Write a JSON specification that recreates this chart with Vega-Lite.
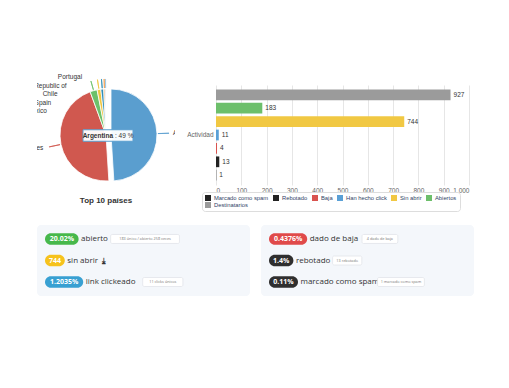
{
  "$schema": "https://vega.github.io/schema/vega-lite/v6.json",
  "background": "white",
  "padding": {"left": 37, "top": 65, "right": 0, "bottom": 0},
  "config": {"view": {"stroke": null}, "font": "Liberation Sans"},
  "datasets": {
    "paises": [
      {"orden": 1, "pais": "Argentina", "pct": 49},
      {"orden": 2, "pais": "United States", "pct": 45.4},
      {"orden": 3, "pais": "Mexico", "pct": 2.5},
      {"orden": 4, "pais": "Spain", "pct": 1.3},
      {"orden": 5, "pais": "Chile", "pct": 1.0},
      {"orden": 6, "pais": "Venezuela, Bolivarian Republic of", "pct": 0.5},
      {"orden": 7, "pais": "Portugal", "pct": 0.3}
    ],
    "actividad": [
      {"grupo": "Actividad", "serie": "Destinatarios", "valor": 927},
      {"grupo": "Actividad", "serie": "Abiertos", "valor": 183},
      {"grupo": "Actividad", "serie": "Sin abrir", "valor": 744},
      {"grupo": "Actividad", "serie": "Han hecho click", "valor": 11},
      {"grupo": "Actividad", "serie": "Baja", "valor": 4},
      {"grupo": "Actividad", "serie": "Rebotado", "valor": 13},
      {"grupo": "Actividad", "serie": "Marcado como spam", "valor": 1}
    ],
    "tarjetas": [
      {"tarjeta": "A", "fila": 1, "badge": "20.02%", "metrica": "abierto", "nota": "183 único / abierto 258 veces", "icono": ""},
      {"tarjeta": "A", "fila": 2, "badge": "744", "metrica": "sin abrir", "nota": "", "icono": "⤓"},
      {"tarjeta": "A", "fila": 3, "badge": "1.2035%", "metrica": "link clickeado", "nota": "11 clicks únicos", "icono": ""},
      {"tarjeta": "B", "fila": 1, "badge": "0.4376%", "metrica": "dado de baja", "nota": "4 dado de baja", "icono": ""},
      {"tarjeta": "B", "fila": 2, "badge": "1.4%", "metrica": "rebotado", "nota": "13 rebotado", "icono": ""},
      {"tarjeta": "B", "fila": 3, "badge": "0.11%", "metrica": "marcado como spam", "nota": "1 marcado como spam", "icono": ""}
    ]
  },
  "vconcat": [
    {
      "hconcat": [
        {
          "width": 138,
          "height": 140,
          "data": {"name": "paises"},
          "title": {"text": "Top 10 países", "orient": "bottom", "offset": -8, "fontSize": 8, "fontWeight": "bold", "color": "#333333", "font": "Liberation Sans"},
          "transform": [
            {"window": [{"op": "sum", "field": "pct", "as": "fin"}], "sort": [{"field": "orden", "order": "ascending"}], "frame": [null, 0]},
            {"calculate": "datum.fin - datum.pct", "as": "ini"},
            {"calculate": "datum.ini + datum.pct / 2", "as": "mid"},
            {"calculate": "datum.mid + 0.03", "as": "mid2"},
            {"calculate": "datum.orden <= 2 ? datum.mid : 100 - acos((24 + 8.5 * (datum.orden - 3)) / 62) * 180 / PI / 3.6", "as": "lt"},
            {"calculate": "': ' + datum.pct + ' %'", "as": "tip"}
          ],
          "layer": [
            {
              "transform": [{"filter": "datum.orden != 1"}],
              "mark": {"type": "arc", "outerRadius": 46, "stroke": "white", "strokeWidth": 0.8},
              "encoding": {
                "theta": {"field": "ini", "type": "quantitative", "stack": null, "scale": {"domain": [0, 100]}},
                "theta2": {"field": "fin"},
                "color": {"field": "pais", "type": "nominal", "legend": null,
                  "scale": {"domain": ["Argentina", "United States", "Mexico", "Spain", "Chile", "Venezuela, Bolivarian Republic of", "Portugal"],
                            "range": ["#5a9ecf", "#d0584f", "#6cc06a", "#f0c640", "#2f8fb8", "#f0a050", "#9cc8e8"]}}
              }
            },
            {
              "transform": [{"filter": "datum.orden == 1"}],
              "mark": {"type": "arc", "outerRadius": 46, "stroke": "white", "strokeWidth": 0.8, "xOffset": 5},
              "encoding": {
                "theta": {"field": "ini", "type": "quantitative", "stack": null, "scale": {"domain": [0, 100]}},
                "theta2": {"field": "fin"},
                "color": {"field": "pais", "type": "nominal", "legend": null}
              }
            },
            {
              "transform": [{"filter": "datum.orden == 2"}],
              "mark": {"type": "arc", "filled": false, "outerRadius": 58, "innerRadius": 47, "strokeWidth": 0.8},
              "encoding": {
                "theta": {"field": "mid", "type": "quantitative", "stack": null, "scale": {"domain": [0, 100]}},
                "theta2": {"field": "mid2"},
                "color": {"field": "pais", "type": "nominal", "legend": null}
              }
            },
            {
              "transform": [{"filter": "datum.orden >= 3"}],
              "mark": {"type": "arc", "filled": false, "outerRadius": 56, "innerRadius": 47, "strokeWidth": 0.8},
              "encoding": {
                "theta": {"field": "mid", "type": "quantitative", "stack": null, "scale": {"domain": [0, 100]}},
                "theta2": {"field": "mid2"},
                "color": {"field": "pais", "type": "nominal", "legend": null}
              }
            },
            {
              "transform": [{"filter": "datum.orden == 1"}],
              "mark": {"type": "arc", "filled": false, "outerRadius": 58, "innerRadius": 47, "strokeWidth": 0.8, "xOffset": 5},
              "encoding": {
                "theta": {"field": "mid", "type": "quantitative", "stack": null, "scale": {"domain": [0, 100]}},
                "theta2": {"field": "mid2"},
                "color": {"field": "pais", "type": "nominal", "legend": null}
              }
            },
            {
              "transform": [{"filter": "datum.orden >= 2"}],
              "mark": {"type": "text", "radius": 62, "align": "right", "baseline": "middle", "dx": -2, "fontSize": 6.5, "color": "#333333", "clip": true},
              "encoding": {
                "theta": {"field": "lt", "type": "quantitative", "stack": null, "scale": {"domain": [0, 100]}},
                "text": {"field": "pais"}
              }
            },
            {
              "transform": [{"filter": "datum.orden == 1"}],
              "mark": {"type": "text", "radius": 60, "align": "left", "baseline": "middle", "dx": 2, "xOffset": 5, "fontSize": 6.5, "color": "#333333", "clip": true},
              "encoding": {
                "theta": {"field": "lt", "type": "quantitative", "stack": null, "scale": {"domain": [0, 100]}},
                "text": {"field": "pais"}
              }
            },
            {
              "transform": [{"filter": "datum.orden == 1"}],
              "mark": {"type": "point", "shape": "M-1,-0.23H1V0.23H-1Z", "size": 2500, "filled": true, "fill": "white", "fillOpacity": 0.95, "stroke": "#5a9ecf", "strokeWidth": 1, "opacity": 1, "xOffset": 2, "yOffset": 0.5},
              "encoding": {}
            },
            {
              "transform": [{"filter": "datum.orden == 1"}],
              "mark": {"type": "text", "align": "right", "baseline": "middle", "dx": 7, "dy": 0.5, "fontSize": 6.5, "fontWeight": "bold", "color": "#333333"},
              "encoding": {"text": {"field": "pais"}}
            },
            {
              "transform": [{"filter": "datum.orden == 1"}],
              "mark": {"type": "text", "align": "left", "baseline": "middle", "dx": 9, "dy": 0.5, "fontSize": 6.5, "color": "#333333"},
              "encoding": {"text": {"field": "tip"}}
            }
          ]
        },
        {
          "width": 253,
          "height": 100,
          "data": {"name": "actividad"},
          "encoding": {
            "y": {"field": "grupo", "type": "nominal", "scale": {"paddingInner": 0, "paddingOuter": 0},
                  "axis": {"title": null, "ticks": false, "domain": false, "labelFontSize": 6.5, "labelColor": "#666666", "labelPadding": 3}},
            "yOffset": {"field": "serie", "type": "nominal",
                        "sort": ["Destinatarios", "Abiertos", "Sin abrir", "Han hecho click", "Baja", "Rebotado", "Marcado como spam"],
                        "scale": {"paddingInner": 0.2, "paddingOuter": 0.33, "align": 0.5}},
            "x": {"field": "valor", "type": "quantitative", "scale": {"domain": [0, 1000], "nice": false},
                  "axis": {"values": [0, 100, 200, 300, 400, 500, 600, 700, 800, 900, 1000], "format": ",.0f", "title": null, "grid": true, "gridColor": "#e6e6e6", "domain": false, "ticks": false, "labelFontSize": 6.5, "labelColor": "#666666", "labelPadding": 2}}
          },
          "layer": [
            {
              "mark": {"type": "bar"},
              "encoding": {
                "color": {"field": "serie", "type": "nominal",
                  "scale": {"domain": ["Marcado como spam", "Rebotado", "Baja", "Han hecho click", "Sin abrir", "Abiertos", "Destinatarios"],
                            "range": ["#222222", "#222222", "#d9534f", "#5aa0d6", "#f1c843", "#6dbf6b", "#9b9b9b"]},
                  "legend": {"title": null, "orient": "none", "legendX": -14, "legendY": 107, "direction": "horizontal", "columns": 6, "gridAlign": "none",
                             "symbolType": "square", "symbolSize": 36, "symbolStrokeWidth": 0, "labelFontSize": 5.8, "labelColor": "#2f3f66", "labelOffset": 3,
                             "columnPadding": 4, "rowPadding": 1, "strokeColor": "#dddddd", "fillColor": "white", "padding": 3, "cornerRadius": 3, "labelLimit": 200}}
              }
            },
            {
              "mark": {"type": "text", "align": "left", "baseline": "middle", "dx": 3, "fontSize": 6.5, "color": "#333333"},
              "encoding": {"text": {"field": "valor", "type": "quantitative"}}
            }
          ]
        }
      ],
      "spacing": 41,
      "bounds": "flush",
      "center": true,
      "resolve": {"scale": {"color": "independent"}}
    },
    {
      "data": {"name": "tarjetas"},
      "facet": {"column": {"field": "tarjeta", "type": "nominal", "header": null}},
      "spacing": 11,
      "spec": {
        "width": 213,
        "height": 71,
        "view": {"fill": "#f4f7fb", "stroke": null, "cornerRadius": 4},
        "transform": [
          {"calculate": "4.6 * length(datum.badge) + 6", "as": "bw"},
          {"calculate": "8", "as": "b0"},
          {"calculate": "8 + datum.bw", "as": "b1"},
          {"calculate": "8 + datum.bw / 2", "as": "bc"},
          {"calculate": "datum.b1 + 2.5", "as": "lx"},
          {"calculate": "4.75 * length(datum.metrica) - 2.4 * length(replace(datum.metrica, /[^iljt ]/g, '')) - 1.4 * length(replace(datum.metrica, /[^r]/g, ''))", "as": "lw"},
          {"calculate": "datum.lx + datum.lw + 2.5", "as": "nx"},
          {"calculate": "2.2 * length(datum.nota) + 5", "as": "nw"},
          {"calculate": "datum.nx + datum.nw", "as": "nx2"},
          {"calculate": "datum.nx + datum.nw / 2", "as": "nc"},
          {"calculate": "datum.lx + datum.lw + 1.5", "as": "ix"}
        ],
        "encoding": {
          "y": {"field": "fila", "type": "ordinal", "scale": {"paddingInner": 0.456, "paddingOuter": 0.379}, "axis": null}
        },
        "layer": [
          {
            "mark": {"type": "bar", "cornerRadius": 5.8},
            "encoding": {
              "x": {"field": "b0", "type": "quantitative", "scale": {"domain": [0, 213], "nice": false, "zero": false}, "axis": null},
              "x2": {"field": "b1"},
              "fill": {"field": "metrica", "type": "nominal", "legend": null,
                "scale": {"domain": ["abierto", "sin abrir", "link clickeado", "dado de baja", "rebotado", "marcado como spam"],
                          "range": ["#47b84b", "#f6c21c", "#38a0d2", "#e04a4a", "#2f2f2f", "#2f2f2f"]}}
            }
          },
          {
            "mark": {"type": "text", "align": "center", "baseline": "middle", "fontSize": 7, "fontWeight": "bold", "color": "white", "font": "Open Sans"},
            "encoding": {
              "x": {"field": "bc", "type": "quantitative"},
              "text": {"field": "badge"}
            }
          },
          {
            "mark": {"type": "text", "align": "left", "baseline": "middle", "fontSize": 8, "color": "#333333", "font": "Open Sans"},
            "encoding": {
              "x": {"field": "lx", "type": "quantitative"},
              "text": {"field": "metrica"}
            }
          },
          {
            "transform": [{"filter": "datum.nota != ''"}],
            "mark": {"type": "bar", "height": 9, "fill": "white", "stroke": "#e2e5ea", "strokeWidth": 0.8, "cornerRadius": 1.5},
            "encoding": {
              "x": {"field": "nx", "type": "quantitative"},
              "x2": {"field": "nx2"}
            }
          },
          {
            "transform": [{"filter": "datum.nota != ''"}],
            "mark": {"type": "text", "align": "center", "baseline": "middle", "fontSize": 3.8, "color": "#777777", "font": "Open Sans"},
            "encoding": {
              "x": {"field": "nc", "type": "quantitative"},
              "text": {"field": "nota"}
            }
          },
          {
            "transform": [{"filter": "datum.icono != ''"}],
            "mark": {"type": "text", "align": "left", "baseline": "middle", "fontSize": 8, "fontWeight": "bold", "color": "#333333", "font": "DejaVu Sans"},
            "encoding": {
              "x": {"field": "ix", "type": "quantitative"},
              "text": {"field": "icono"}
            }
          }
        ]
      }
    }
  ],
  "spacing": 13,
  "resolve": {"scale": {"color": "independent", "fill": "independent"}}
}
